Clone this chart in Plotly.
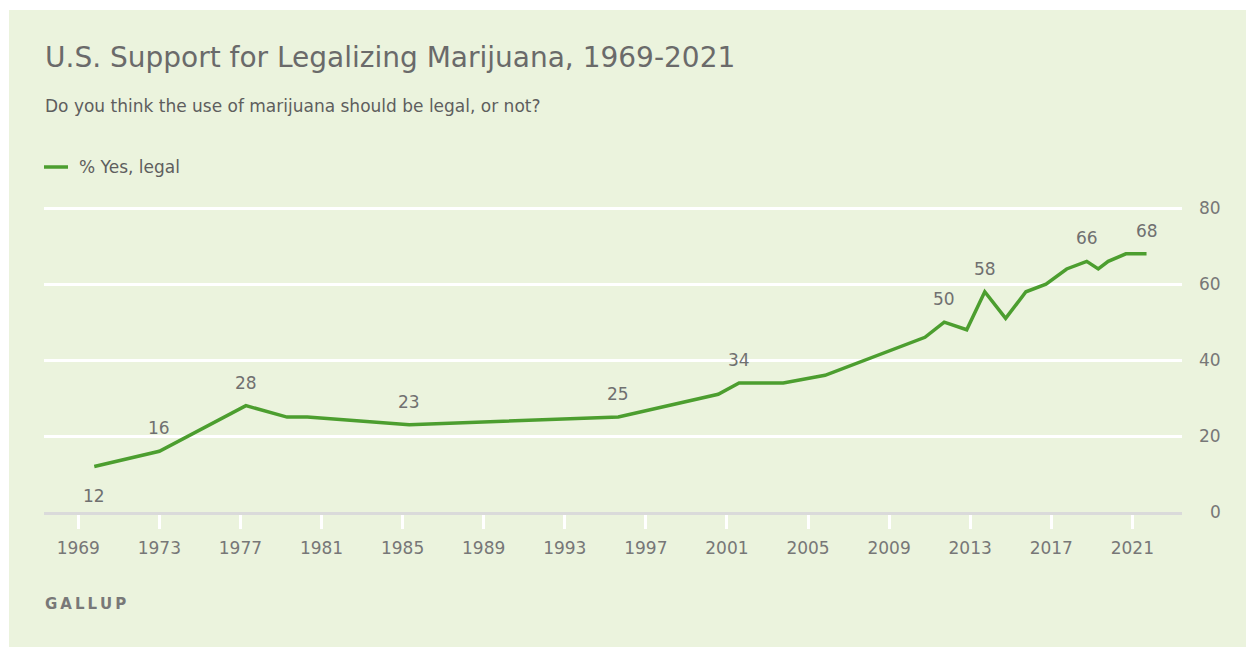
import plotly.graph_objects as go

# ---- data ----
survey_years = [1969.79, 1973.0, 1977.27, 1979.3, 1980.3, 1985.33, 1995.64, 2000.57,
                2001.6, 2003.78, 2005.84, 2009.8, 2010.77, 2011.72, 2012.83, 2013.72,
                2014.75, 2015.75, 2016.74, 2017.76, 2018.75, 2019.32, 2019.81, 2020.68, 2021.7]
pct_yes = [12, 16, 28, 25, 25, 23, 25, 31, 34, 34, 36, 44, 46, 50, 48, 58,
           51, 58, 60, 64, 66, 64, 66, 68, 68]
labeled_years = [1969.79, 1973.0, 1977.27, 1985.33, 1995.64, 2001.6, 2011.72, 2013.72, 2018.75, 2021.7]
labels_below = [1969.79]
x_ticks = list(range(1969, 2022, 4))
y_ticks = [0, 20, 40, 60, 80]

title = "U.S. Support for Legalizing Marijuana, 1969-2021"
subtitle = "Do you think the use of marijuana should be legal, or not?"
series_name = "% Yes, legal"
source = "GALLUP"

# ---- style ----
W, H = 1246, 647
L, R, T, B = 44, 64, 190, 135
PW, PH = W - L - R, H - T - B
BG = "#ebf3dd"
GREEN = "#4c9e2f"
FONT = "DejaVu Sans"


def px_x(px):
    return (px - L) / PW


def px_y(py):
    return (H - B - py) / PH


fig = go.Figure()
fig.add_trace(go.Scatter(
    x=survey_years, y=pct_yes, mode="lines", name=series_name,
    line=dict(color=GREEN, width=3.5), cliponaxis=False, hoverinfo="x+y",
))

ann = []
for xv, yv in zip(survey_years, pct_yes):
    if xv in labeled_years:
        ann.append(dict(x=xv, y=yv, xref="x", yref="y", text=str(yv), showarrow=False,
                        yshift=-30 if xv in labels_below else 23,
                        font=dict(family=FONT, size=17, color="#707070")))
for t in y_ticks:
    ann.append(dict(x=px_x(1223), y=t, xref="paper", yref="y", text=str(t), showarrow=False,
                    xanchor="right", yanchor="middle",
                    font=dict(family=FONT, size=17, color="#777777")))
ann += [
    dict(x=px_x(43), y=px_y(58), xref="paper", yref="paper", text=title, showarrow=False,
         xanchor="left", yanchor="middle", font=dict(family=FONT, size=28, color="#6a6a6a")),
    dict(x=px_x(43), y=px_y(106), xref="paper", yref="paper", text=subtitle, showarrow=False,
         xanchor="left", yanchor="middle", font=dict(family=FONT, size=17, color="#5e5e5e")),
    dict(x=px_x(77), y=px_y(167), xref="paper", yref="paper", text=series_name, showarrow=False,
         xanchor="left", yanchor="middle", font=dict(family=FONT, size=17, color="#5e5e5e")),
    dict(x=px_x(43), y=px_y(604), xref="paper", yref="paper",
         text="<b>" + "\u2009".join(source) + "</b>", showarrow=False,
         xanchor="left", yanchor="middle", font=dict(family=FONT, size=15, color="#787878")),
]

shapes = [
    dict(type="rect", xref="paper", yref="paper", x0=px_x(0), x1=px_x(9), y0=px_y(H), y1=px_y(0),
         fillcolor="white", line=dict(width=0), layer="below"),
    dict(type="rect", xref="paper", yref="paper", x0=px_x(0), x1=px_x(W), y0=px_y(10), y1=px_y(0),
         fillcolor="white", line=dict(width=0), layer="below"),
    dict(type="line", xref="paper", yref="paper", x0=px_x(44), x1=px_x(68), y0=px_y(167), y1=px_y(167),
         line=dict(color=GREEN, width=3.5)),
]

fig.update_layout(
    width=W, height=H, margin=dict(l=L, r=R, t=T, b=B),
    paper_bgcolor=BG, plot_bgcolor=BG, showlegend=False,
    annotations=ann, shapes=shapes,
    xaxis=dict(range=[1967.31, 2023.45], tickvals=x_ticks, ticktext=[str(v) for v in x_ticks],
               showgrid=False, zeroline=False, showline=True, linecolor="#dadada", linewidth=3,
               ticks="outside", ticklen=14, tickwidth=2.5, tickcolor="white",
               ticklabelstandoff=5, fixedrange=True,
               tickfont=dict(family=FONT, size=17, color="#777777")),
    yaxis=dict(range=[0, 84.8], tickvals=y_ticks, showticklabels=False, showgrid=True,
               gridcolor="white", gridwidth=2.5, zeroline=False, fixedrange=True),
)

fig.write_html("out.html", config={"displayModeBar": False},
               post_script="document.body.style.margin='0';document.body.style.overflow='hidden';")
